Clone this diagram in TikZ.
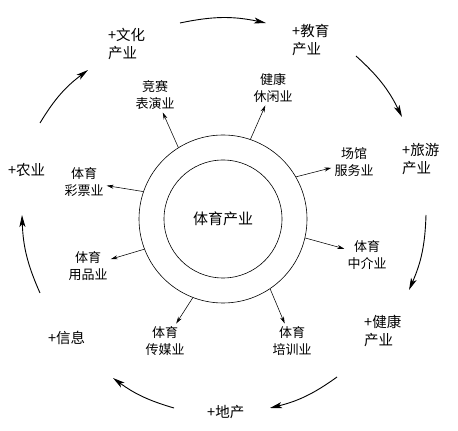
\documentclass[tikz,border=0pt]{standalone}
\usepackage{fontspec}
\setmainfont{Noto Sans CJK SC}
\usetikzlibrary{arrows.meta}

\begin{document}
\begin{tikzpicture}[x=1pt,y=1pt,
        ring/.style={draw,circle,line width=0.6pt,inner sep=0pt},
        inlabel/.style={align=center,inner sep=3pt,font=\fontsize{13}{16.5}\selectfont},
        outlabel/.style={align=left,anchor=west,inner sep=0pt,font=\fontsize{14.5}{18}\selectfont},
        spoke/.style={-{Stealth[length=7pt,width=4pt]},line width=0.55pt},
        loopline/.style={-{Stealth[length=12pt,width=6pt,inset=3pt]},line width=0.9pt}]
        \useasboundingbox (0,0) rectangle (458,431);

        % the two rings in the middle
        \node[ring,minimum size=168pt] (outer) at (223,212) {};
        \node[ring,minimum size=118pt,font=\fontsize{15}{18}\selectfont] (core) at (223,212) {体育产业};

        % branches of the sports industry
        \node[inlabel] (jingsai)   at (155,336) {竞赛\\表演业};
        \node[inlabel] (xiuxian)   at (273,343) {健康\\休闲业};
        \node[inlabel] (changguan) at (354,269) {场馆\\服务业};
        \node[inlabel] (zhongjie)  at (367,176) {体育\\中介业};
        \node[inlabel] (peixun)    at (292,90)  {体育\\培训业};
        \node[inlabel] (chuanmei)  at (165,90)  {体育\\传媒业};
        \node[inlabel] (yongpin)   at (88,165)  {体育\\用品业};
        \node[inlabel] (caipiao)   at (84,249)  {体育\\彩票业};

        \draw[spoke] (outer.122) -- (jingsai);
        \draw[spoke] (outer.71)  -- (xiuxian);
        \draw[spoke] (outer.30)  -- (changguan);
        \draw[spoke] (outer.-13) -- (zhongjie);
        \draw[spoke] (outer.-56) -- (peixun);
        \draw[spoke] (outer.-111) -- (chuanmei);
        \draw[spoke] (outer.-159) -- (yongpin);
        \draw[spoke] (outer.161) -- (caipiao);

        % neighbouring industries
        \node[outlabel] (wenhua)   at (108,387) {+文化\\产业};
        \node[outlabel] (jiaoyu)   at (292,391) {+教育\\产业};
        \node[outlabel] (lvyou)    at (402,272) {+旅游\\产业};
        \node[outlabel] (jiankang) at (364,100) {+健康\\产业};
        \node[outlabel] (dichan)   at (207,19)  {+地产};
        \node[outlabel] (xinxi)    at (48,93)   {+信息};
        \node[outlabel] (nongye)   at (8,261)   {+农业};

        % clockwise cycle round the outside
        \coordinate (a1s) at (40,308);  \coordinate (a1e) at (88,361);
        \coordinate (a2s) at (180,408); \coordinate (a2e) at (266,408);
        \coordinate (a3s) at (356,375); \coordinate (a3e) at (402,314);
        \coordinate (a4s) at (426,216); \coordinate (a4e) at (409,141);
        \coordinate (a5s) at (337,54);  \coordinate (a5e) at (270,23);
        \coordinate (a6s) at (174,23);  \coordinate (a6e) at (113,53);
        \coordinate (a7s) at (40,138);  \coordinate (a7e) at (22,216);

        \draw[loopline] (a1s) to[bend left=11] (a1e);
        \draw[loopline] (a2s) to[bend left=12] (a2e);
        \draw[loopline] (a3s) to[bend left=11] (a3e);
        \draw[loopline] (a4s) to[bend left=11] (a4e);
        \draw[loopline] (a5s) to[bend left=11] (a5e);
        \draw[loopline] (a6s) to[bend left=10] (a6e);
        \draw[loopline] (a7s) to[bend left=11] (a7e);
    \end{tikzpicture}
\end{document}
